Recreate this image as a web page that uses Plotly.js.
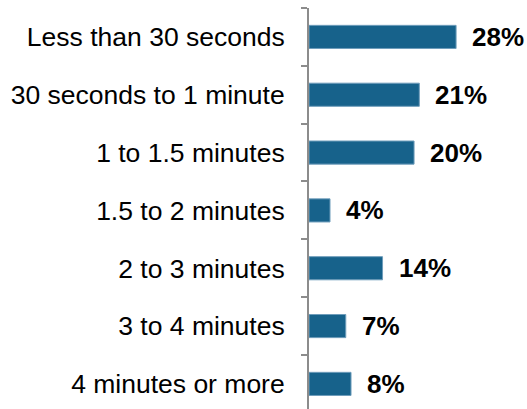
<!DOCTYPE html>
<html>
<head>
<meta charset="utf-8">
<script src="https://cdn.plot.ly/plotly-3.0.1.min.js"></script>
<style>
  html, body { margin: 0; padding: 0; background: #fff; }
  #chart { width: 527px; height: 409px; }
</style>
</head>
<body>
<div id="chart"></div>
<script>
// Time spent, share of respondents (%)
const categories = [
  "Less than 30 seconds",
  "30 seconds to 1 minute",
  "1 to 1.5 minutes",
  "1.5 to 2 minutes",
  "2 to 3 minutes",
  "3 to 4 minutes",
  "4 minutes or more"
];
const shares = [28, 21, 20, 4, 14, 7, 8];
const shareLabels = ["28%", "21%", "20%", "4%", "14%", "7%", "8%"];

const FONT = "Arial, 'Liberation Sans', sans-serif";
const BAR = "#17628b";

const bars = {
  type: "bar",
  orientation: "h",
  x: shares,
  y: categories,
  marker: { color: BAR, line: { color: "#6f9dbb", width: 1 } },
  hoverinfo: "none"
};

// Bold value labels just past the end of each bar
const valueNotes = shares.map((v, i) => ({
  x: v,
  y: categories[i],
  xref: "x",
  yref: "y",
  text: "<b>" + shareLabels[i] + "</b>",
  showarrow: false,
  xanchor: "left",
  yanchor: "middle",
  xshift: 14,
  font: { family: FONT, size: 26, color: "#000" }
}));

const layout = {
  width: 527,
  height: 409,
  margin: { l: 309, r: 0, t: 8, b: 0 },
  paper_bgcolor: "#fff",
  plot_bgcolor: "#fff",
  showlegend: false,
  bargap: 0.6,
  xaxis: {
    range: [0, 41.5],
    visible: false,
    fixedrange: true
  },
  yaxis: {
    type: "category",
    autorange: false,
    range: [6.434, -0.5],
    showline: true,
    linecolor: "#8c8c8c",
    linewidth: 2,
    ticks: "outside",
    tickson: "boundaries",
    ticklen: 6,
    tickwidth: 2,
    tickcolor: "#8c8c8c",
    ticklabelstandoff: 17,
    showgrid: false,
    zeroline: false,
    tickfont: { family: FONT, size: 26.5, color: "#000" },
    fixedrange: true
  },
  annotations: valueNotes
};

Plotly.newPlot("chart", [bars], layout, { displayModeBar: false, staticPlot: true });
</script>
</body>
</html>
